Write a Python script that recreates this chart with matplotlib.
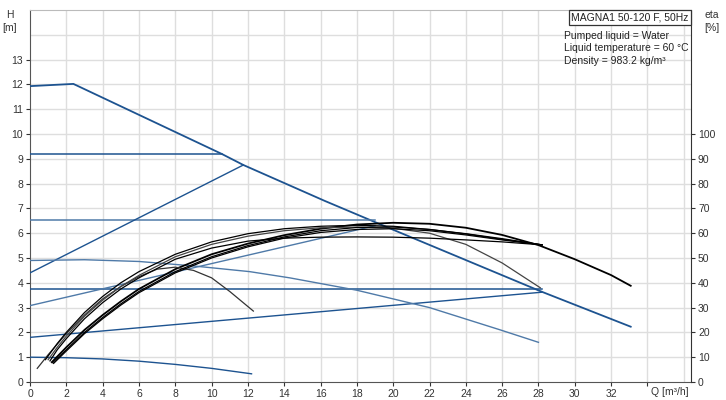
import numpy as np
import matplotlib
matplotlib.use("Agg")
import matplotlib.pyplot as plt

plt.rcParams['font.family'] = ['Liberation Sans', 'DejaVu Sans']

# ---- head curves, Q [m3/h] / H [m] ----
max_q = [0, 2.39, 10.55, 11.75, 16.24, 20.19, 28.18, 33.08]
max_h = [11.93, 12.02, 9.2, 8.75, 7.3, 6.08, 3.64, 2.23]

# constant pressure settings (H, end Q)
cp_h = [9.2, 6.52, 3.76]
cp_qend = [10.55, 19.0, 28.18]

# proportional pressure settings
pp1_q = [0, 11.75]
pp1_h = [4.4, 8.75]
pp2_q = [0, 19.0]
pp2_h = [3.08, 6.3]
pp3_q = [0, 28.18]
pp3_h = [1.8, 3.62]

# constant speed curves
cs1_q = [0, 3, 6, 9, 12.1, 14.3, 18, 22, 25.9, 28]
cs1_h = [4.9, 4.93, 4.86, 4.68, 4.45, 4.2, 3.7, 3.0, 2.1, 1.6]
cs2_q = [0, 2, 4, 6, 8, 10, 12.2]
cs2_h = [1.0, 0.98, 0.93, 0.84, 0.71, 0.55, 0.33]

# ---- efficiency curves, Q [m3/h] / eta [%] ----
eta_max_q = [1.2, 2, 3, 4, 5, 6, 8, 10, 12, 14, 16, 18, 20, 22, 24, 26, 28, 30, 32, 33.08]
eta_max = [8, 14, 21, 27, 32.5, 37.5, 45.5, 51.5, 55.8, 59.2, 61.8, 63.5, 64.2, 63.8, 62.2, 59.3, 55.2, 49.5, 43.1, 38.8]

eta_small_q = [0.4, 1, 2, 3, 4, 5, 6, 7, 8, 9, 10, 11, 12.3]
eta_small = [5.5, 11, 19.5, 27, 33.5, 38.5, 42.5, 45.5, 46.3, 45, 42, 36.5, 28.6]

eta_drop_q = [1.0, 1.5, 2, 3, 4, 5, 6, 8, 10, 12, 14, 16, 18, 20, 22, 24, 26, 28.1]
eta_drop = [9, 14, 18.5, 26.5, 33, 38.5, 43, 50.5, 55.5, 58.8, 61, 62.2, 62.5, 62, 60, 55.5, 48, 38]

eta_q = [
    [0.85, 1.5, 2, 3, 4, 5, 6, 8, 10, 12, 14, 16, 18, 20, 22, 24, 26, 28.2],
    [1.1, 1.5, 2, 3, 4, 5, 6, 8, 10, 12, 14, 16, 18, 20, 22, 24, 26, 28.2],
    [1.25, 2, 3, 4, 5, 6, 8, 10, 12, 14, 16, 18, 20, 22, 24, 26, 28.2],
    [1.3, 2, 3, 4, 5, 6, 8, 10, 12, 14, 16, 18, 20, 22, 24, 26, 28.2],
]
eta_vals = [
    [9, 15.5, 20, 28, 34.5, 40, 44.5, 51.5, 56.5, 59.8, 61.8, 62.8, 63.2, 62.8, 61.5, 59.8, 57.8, 55.3],
    [8.5, 13, 17.5, 25.5, 32, 37.5, 42, 49.5, 54, 56.8, 58, 58.4, 58.5, 58.4, 58, 57.3, 56.5, 55.3],
    [7.8, 13, 20, 26, 31.5, 36.5, 44.5, 50.5, 55, 58.5, 61, 62.3, 62.5, 61.5, 59.7, 57.5, 55.3],
    [7.5, 12.5, 19.5, 25.5, 31, 36, 44, 50, 54.5, 58, 60.3, 61.5, 61.8, 61, 59.3, 57.3, 55.3],
]

xticks = list(range(0, 33, 2))
hticks = list(range(0, 14))
etaticks = list(range(0, 101, 10))

dark = '#1d5390'
light = '#4f7aa8'

fig = plt.figure(figsize=(7.26, 4.0), dpi=100)
ax = fig.add_axes([30 / 726, 18 / 400, 661 / 726, 372 / 400])
ax.set_xlim(0, 36.4)
ax.set_ylim(0, 15)

# grid
for gx in range(2, 37, 2):
    ax.axvline(gx, color='#dedede', lw=1.0, zorder=0)
for gy in range(1, 15):
    ax.axhline(gy, color='#dedede', lw=1.0, zorder=0)

ax.plot(max_q, max_h, color=dark, lw=1.3, zorder=3)
for h, qe in zip(cp_h, cp_qend):
    ax.plot([0, qe], [h, h], color=dark if h != 6.52 else light, lw=1.1, zorder=3)
ax.plot(pp1_q, pp1_h, color=dark, lw=1.0, zorder=3)
ax.plot(pp2_q, pp2_h, color=light, lw=1.0, zorder=3)
ax.plot(pp3_q, pp3_h, color=dark, lw=1.0, zorder=3)
ax.plot(cs1_q, cs1_h, color=light, lw=1.0, zorder=3)
ax.plot(cs2_q, cs2_h, color=dark, lw=1.0, zorder=3)

ax.set_xticks(xticks + [34])
ax.set_xticklabels([str(v) for v in xticks] + [''])
ax.set_yticks(hticks)
ax.tick_params(axis='both', labelsize=7.5, colors='#333333', length=3, width=0.8, pad=2)
for s in ['left', 'bottom']:
    ax.spines[s].set_color('#555555')
ax.spines['top'].set_color('#bbbbbb')
ax.spines['right'].set_visible(False)

ax2 = ax.twinx()
ax2.set_ylim(0, 150)
ax2.set_yticks(etaticks)
ax2.tick_params(axis='y', labelsize=7.5, colors='#333333', length=3, width=0.8, pad=2)
for s in ['left', 'top', 'bottom']:
    ax2.spines[s].set_visible(False)
ax2.spines['right'].set_color('#333333')

ax2.plot(eta_max_q, eta_max, color='black', lw=1.3)
ax2.plot(eta_small_q, eta_small, color='#333333', lw=0.9)
ax2.plot(eta_drop_q, eta_drop, color='#444444', lw=0.9)
for q, e in zip(eta_q, eta_vals):
    ax2.plot(q, e, color='black', lw=0.9)

# labels
fig.text(10 / 726, 1 - 15 / 400, 'H', fontsize=7.5, ha='center', va='center', color='#333333')
fig.text(10 / 726, 1 - 28 / 400, '[m]', fontsize=7.5, ha='center', va='center', color='#333333')
fig.text(712 / 726, 1 - 15 / 400, 'eta', fontsize=7.5, ha='center', va='center', color='#333333')
fig.text(712 / 726, 1 - 28 / 400, '[%]', fontsize=7.5, ha='center', va='center', color='#333333')
fig.text(670 / 726, 1 - 392 / 400, 'Q [m³/h]', fontsize=7.5, ha='center', va='center', color='#333333')

fig.text(630 / 726, 1 - 17.5 / 400, 'MAGNA1 50-120 F, 50Hz', fontsize=7.5, ha='center', va='center',
         color='#222222', bbox=dict(boxstyle='square,pad=0.25', fc='white', ec='#333333', lw=0.9))
info = ['Pumped liquid = Water', 'Liquid temperature = 60 °C', 'Density = 983.2 kg/m³']
for i, t in enumerate(info):
    fig.text(564 / 726, 1 - (36 + 12.3 * i) / 400, t, fontsize=7.5, ha='left', va='center', color='#222222')

fig.savefig('out.png', dpi=100)
